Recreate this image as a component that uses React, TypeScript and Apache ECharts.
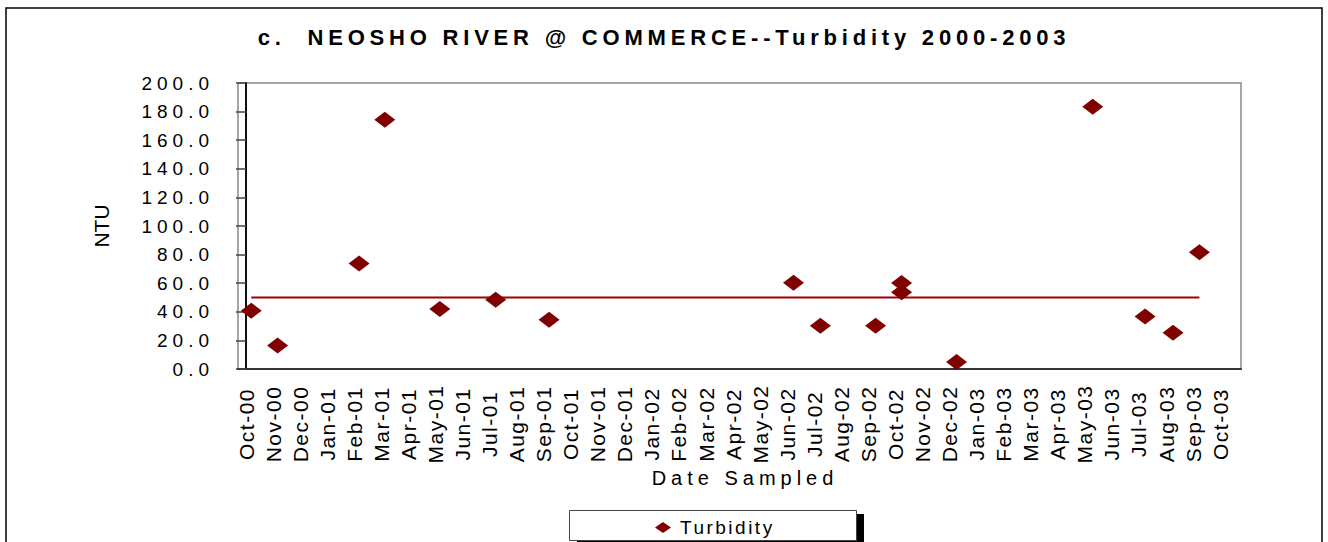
import React, { useEffect, useRef } from "react";
import * as echarts from "echarts";

const monthLabels = [
  "Oct-00", "Nov-00", "Dec-00", "Jan-01", "Feb-01", "Mar-01", "Apr-01", "May-01", "Jun-01",
  "Jul-01", "Aug-01", "Sep-01", "Oct-01", "Nov-01", "Dec-01", "Jan-02", "Feb-02", "Mar-02",
  "Apr-02", "May-02", "Jun-02", "Jul-02", "Aug-02", "Sep-02", "Oct-02", "Nov-02", "Dec-02",
  "Jan-03", "Feb-03", "Mar-03", "Apr-03", "May-03", "Jun-03", "Jul-03", "Aug-03", "Sep-03",
  "Oct-03",
];

const sampleDates = [
  "2000-10-07", "2000-11-06", "2001-02-06", "2001-03-05", "2001-05-06", "2001-07-08",
  "2001-09-07", "2002-06-08", "2002-07-08", "2002-09-09", "2002-10-08", "2002-10-08",
  "2002-12-09", "2003-05-10", "2003-07-08", "2003-08-09", "2003-09-08",
];

const turbidity = [
  40.8, 16.5, 73.8, 174.3, 42.0, 48.5, 34.5, 60.3, 30.3, 30.3, 60.1, 53.6, 4.9, 183.4, 36.8,
  25.4, 81.6,
];

const criterion = 50;

const yTicks = [0, 20, 40, 60, 80, 100, 120, 140, 160, 180, 200];

// months since Oct 2000 (fractional), the axis unit
function toMonth(d: string): number {
  const [y, m, day] = d.split("-").map(Number);
  const dim = new Date(y, m, 0).getDate();
  return (y - 2000) * 12 + (m - 10) + (day - 1) / dim;
}

export default function App() {
  const ref = useRef<HTMLDivElement>(null);

  useEffect(() => {
    if (!ref.current) return;
    const chart = echarts.init(ref.current, undefined, { renderer: "svg" });
    const xs = sampleDates.map(toMonth);
    const fam = (t: string) => `Liberation Sans, ${t}`;
    chart.setOption({
      animation: false,
      backgroundColor: "#ffffff",
      title: {
        text: "c.  NEOSHO RIVER @ COMMERCE--Turbidity 2000-2003",
        left: 664,
        top: 26,
        textAlign: "center",
        padding: 0,
        textStyle: { fontSize: 22, fontWeight: "bold", color: "#000", fontFamily: fam("zzT") },
      },
      grid: {
        left: 238,
        right: 87,
        top: 83,
        bottom: 173,
        show: true,
        borderColor: "#888888",
        borderWidth: 1.5,
        backgroundColor: "transparent",
      },
      legend: {
        data: ["Turbidity"],
        left: 655,
        top: 518,
        padding: 0,
        itemWidth: 16,
        itemHeight: 11,
        selectedMode: false,
        textStyle: { fontSize: 19, color: "#000", fontFamily: fam("zzL"), padding: [0, 0, 0, 4] },
      },
      xAxis: {
        type: "value",
        min: (238 - 246) / 27.06,
        max: (1241 - 246) / 27.06,
        name: "Date Sampled",
        nameLocation: "middle",
        nameGap: 99,
        nameTextStyle: { fontSize: 20, color: "#000", fontFamily: fam("zzN"), padding: [0, 0, 0, 11] },
        axisLine: { show: true, lineStyle: { color: "#333", width: 2 } },
        axisTick: { show: false },
        splitLine: { show: false },
        axisLabel: {
          customValues: monthLabels.map((_, i) => i),
          formatter: (v: number) => monthLabels[Math.round(v)] ?? "",
          rotate: 90,
          align: "center",
          margin: 55,
          fontSize: 21,
          color: "#000",
          fontFamily: fam("zzX"),
        },
      },
      yAxis: {
        type: "value",
        min: yTicks[0],
        max: yTicks[yTicks.length - 1],
        interval: 20,
        name: "NTU",
        nameLocation: "middle",
        nameGap: 126,
        nameTextStyle: { fontSize: 21, color: "#000", fontFamily: fam("zzA") },
        axisLine: { show: true, lineStyle: { color: "#111", width: 2 } },
        axisTick: { show: true, length: 10, lineStyle: { color: "#444", width: 1.5 } },
        splitLine: { show: false },
        axisLabel: {
          formatter: (v: number) => v.toFixed(1),
          margin: 24,
          fontSize: 19,
          color: "#000",
          fontFamily: fam("zzY"),
        },
      },
      graphic: [
        { type: "rect", shape: { x: 6, y: 8, width: 1316, height: 545 }, style: { fill: "none", stroke: "#000", lineWidth: 1.5 }, silent: true, z: -10 },
        { type: "rect", shape: { x: 577, y: 514, width: 287, height: 35 }, style: { fill: "#000" }, silent: true, z: -5 },
        { type: "rect", shape: { x: 569.5, y: 510.5, width: 287, height: 30 }, style: { fill: "#fff", stroke: "#444", lineWidth: 1 }, silent: true, z: -4 },
      ],
      series: [
        {
          name: "Criterion",
          type: "line",
          data: [
            [xs[0], criterion],
            [xs[xs.length - 1], criterion],
          ],
          showSymbol: false,
          symbol: "none",
          lineStyle: { color: "#a00000", width: 2 },
          silent: true,
          z: 2,
        },
        {
          name: "Turbidity",
          type: "scatter",
          symbol: "diamond",
          symbolSize: [21, 16],
          itemStyle: { color: "#800000", opacity: 1 },
          data: xs.map((x, i) => [x, turbidity[i]]),
          z: 3,
        },
      ],
    });
    return () => chart.dispose();
  }, []);

  const css = `
    .chartbox text[style*="zzT"] { letter-spacing: 4.8px; }
    .chartbox text[style*="zzY"] { letter-spacing: 5px; }
    .chartbox text[style*="zzN"] { letter-spacing: 5px; }
    .chartbox text[style*="zzX"] { letter-spacing: 1.5px; }
    .chartbox text[style*="zzL"] { letter-spacing: 2.5px; }
  `;

  return (
    <>
      <style>{css}</style>
      <div
        ref={ref}
        className="chartbox"
        style={{ position: "fixed", left: 0, top: 0, width: 1328, height: 542, background: "#fff" }}
      />
    </>
  );
}
